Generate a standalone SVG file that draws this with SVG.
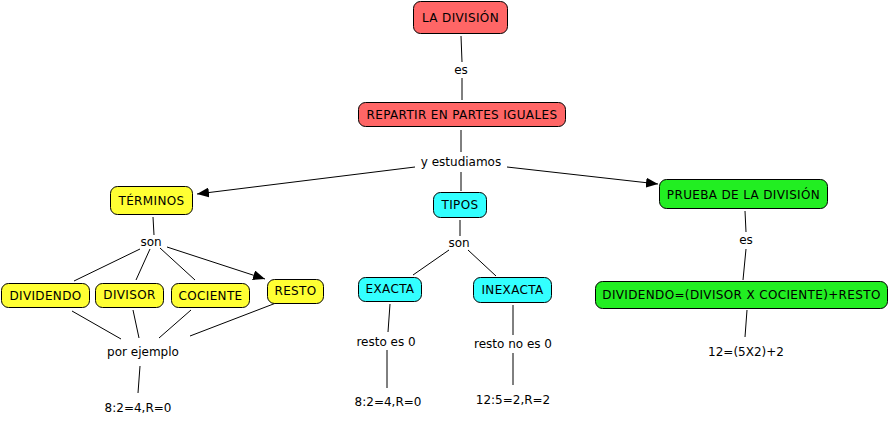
<svg xmlns="http://www.w3.org/2000/svg" width="890" height="424" viewBox="0 0 890 424">
<defs>
<marker id="arr" viewBox="0 0 12 10" refX="12" refY="5" markerWidth="12" markerHeight="10" markerUnits="userSpaceOnUse" orient="auto">
<path d="M0,0 L12,5 L0,10 Z" fill="#000"/>
</marker>
</defs>
<style>
text{font-family:"DejaVu Sans",Verdana,sans-serif;font-size:12px;fill:#000;text-anchor:middle}
.n text{letter-spacing:0.35px}
.n rect{stroke:#000;stroke-width:1}
.red rect{fill:#FF6666}
.yel rect{fill:#FFFF33}
.cya rect{fill:#33FFFF}
.grn rect{fill:#22EE22}
#connectors line{stroke:#000;stroke-width:1;fill:none}
</style>
<rect width="890" height="424" fill="#fff"/>
<g id="connectors">
<line x1="461" y1="36" x2="462" y2="62"/>
<line x1="462" y1="78" x2="462" y2="100"/>
<line x1="461" y1="130" x2="461" y2="152"/>
<line x1="415" y1="167" x2="197" y2="194" marker-end="url(#arr)"/>
<line x1="507" y1="167" x2="658" y2="184" marker-end="url(#arr)"/>
<line x1="461" y1="172" x2="461" y2="191"/>
<line x1="153" y1="217" x2="154" y2="235"/>
<line x1="140" y1="249" x2="74" y2="281"/>
<line x1="150" y1="249" x2="136" y2="280"/>
<line x1="160" y1="248" x2="195" y2="280"/>
<line x1="167" y1="247" x2="265" y2="279" marker-end="url(#arr)"/>
<line x1="72" y1="311" x2="121" y2="339"/>
<line x1="133" y1="310" x2="139" y2="338"/>
<line x1="191" y1="310" x2="159" y2="338"/>
<line x1="276" y1="303" x2="190" y2="336"/>
<line x1="140" y1="366" x2="138" y2="393"/>
<line x1="460" y1="220" x2="460" y2="236"/>
<line x1="449" y1="250" x2="413" y2="275"/>
<line x1="468" y1="250" x2="496" y2="276"/>
<line x1="390" y1="304" x2="388" y2="332"/>
<line x1="387" y1="350" x2="387" y2="388"/>
<line x1="513" y1="305" x2="513" y2="335"/>
<line x1="513" y1="353" x2="513" y2="385"/>
<line x1="745" y1="211" x2="746" y2="232"/>
<line x1="746" y1="249" x2="743" y2="280"/>
<line x1="747" y1="310" x2="745" y2="337"/>
</g>
<g id="lbl-es1"><text x="461" y="74">es</text></g>
<g id="lbl-yest"><text x="461" y="166">y estudiamos</text></g>
<g id="lbl-son1"><text x="151" y="246">son</text></g>
<g id="lbl-porej"><text x="143" y="356">por ejemplo</text></g>
<g id="lbl-ex1"><text x="138" y="412">8:2=4,R=0</text></g>
<g id="lbl-son2"><text x="459" y="247">son</text></g>
<g id="lbl-r0"><text x="386" y="346">resto es 0</text></g>
<g id="lbl-ex2"><text x="388" y="406">8:2=4,R=0</text></g>
<g id="lbl-rn0"><text x="513" y="348">resto no es 0</text></g>
<g id="lbl-ex3"><text x="513" y="404">12:5=2,R=2</text></g>
<g id="lbl-es2"><text x="746" y="244">es</text></g>
<g id="lbl-ex4"><text x="746" y="356">12=(5X2)+2</text></g>
<g id="n-ladivision" class="n red"><rect x="413.5" y="1.5" width="94" height="32" rx="7"/><text x="460.5" y="22">LA DIVISIÓN</text></g>
<g id="n-repartir" class="n red"><rect x="358.5" y="102.5" width="207" height="24" rx="7"/><text x="462" y="119">REPARTIR EN PARTES IGUALES</text></g>
<g id="n-terminos" class="n yel"><rect x="110.5" y="186.5" width="82" height="28" rx="7"/><text x="151.5" y="205">TÉRMINOS</text></g>
<g id="n-dividendo" class="n yel"><rect x="1.5" y="283.5" width="88" height="24" rx="7"/><text x="45.5" y="300">DIVIDENDO</text></g>
<g id="n-divisor" class="n yel"><rect x="95.5" y="283.5" width="68" height="24" rx="7"/><text x="129.5" y="299">DIVISOR</text></g>
<g id="n-cociente" class="n yel"><rect x="171.5" y="283.5" width="78" height="24" rx="7"/><text x="210.5" y="300">COCIENTE</text></g>
<g id="n-resto" class="n yel"><rect x="267.5" y="279.5" width="56" height="24" rx="7"/><text x="295.5" y="295">RESTO</text></g>
<g id="n-tipos" class="n cya"><rect x="433.5" y="192.5" width="53" height="25" rx="7"/><text x="460" y="209">TIPOS</text></g>
<g id="n-exacta" class="n cya"><rect x="358.5" y="277.5" width="63" height="24" rx="7"/><text x="390" y="293">EXACTA</text></g>
<g id="n-inexacta" class="n cya"><rect x="473.5" y="277.5" width="78" height="25" rx="7"/><text x="512.5" y="294">INEXACTA</text></g>
<g id="n-prueba" class="n grn"><rect x="659.5" y="179.5" width="168" height="29" rx="7"/><text x="743.5" y="199">PRUEBA DE LA DIVISIÓN</text></g>
<g id="n-formula" class="n grn"><rect x="595.5" y="281.5" width="292" height="27" rx="7"/><text x="741.5" y="299">DIVIDENDO=(DIVISOR X COCIENTE)+RESTO</text></g>
</svg>
